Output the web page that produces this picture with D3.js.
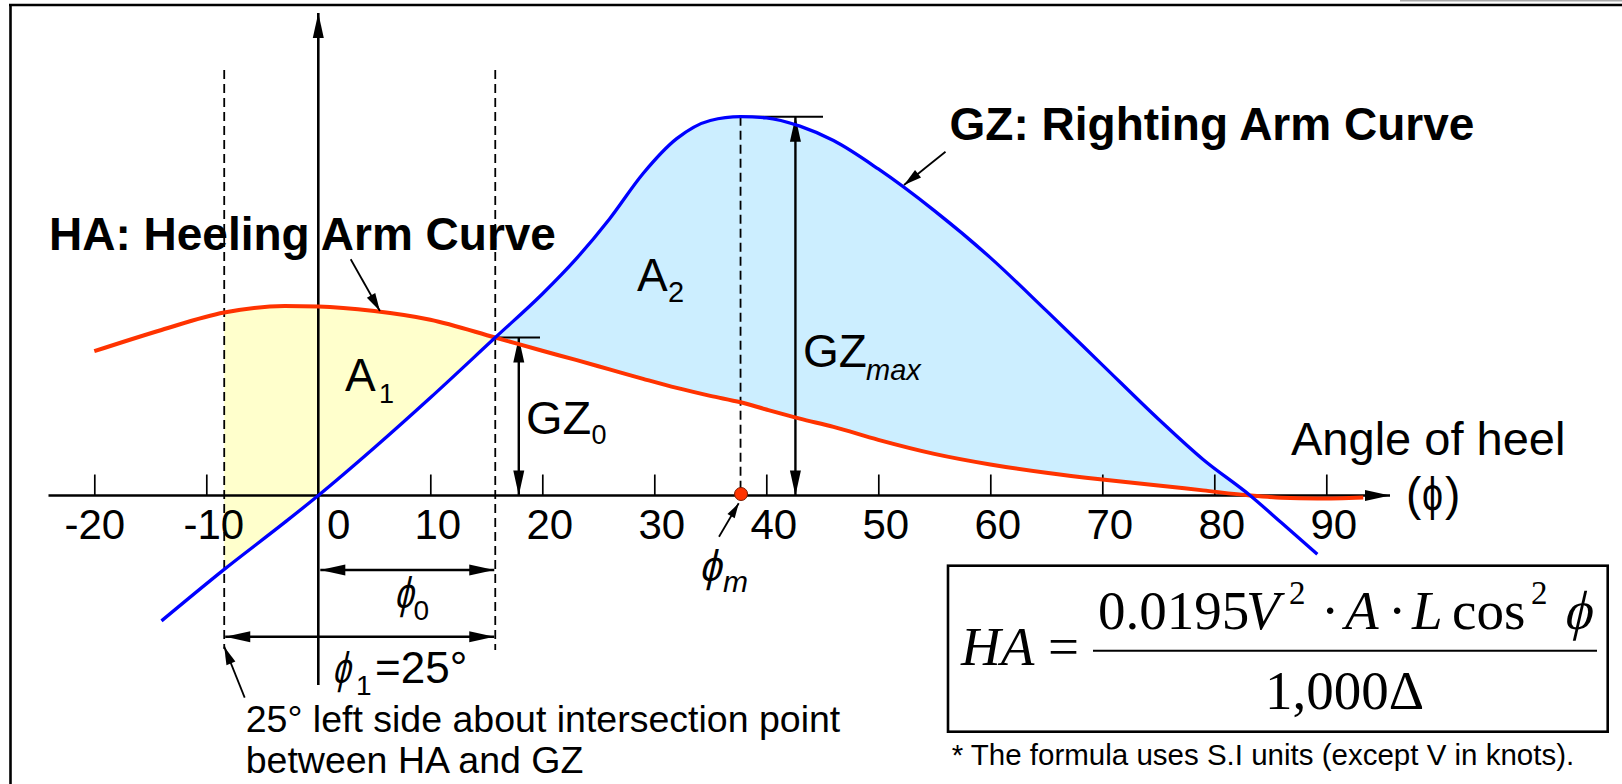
<!DOCTYPE html>
<html>
<head>
<meta charset="utf-8">
<script src="https://cdn.jsdelivr.net/npm/d3@7"></script>
<style>
  html, body { margin: 0; padding: 0; background: #fff; }
  svg { display: block; }
  text { font-family: "Liberation Sans", Arial, "DejaVu Sans", sans-serif; fill: #000; }
  .serif { font-family: "Liberation Serif", "Times New Roman", "DejaVu Serif", serif; }
</style>
</head>
<body>
<svg id="chart" width="1622" height="784"></svg>
<script>
// Heel angles (degrees) at which both arm curves are sampled
const angles   = [-20, -14, -8.4, -3, 0, 5, 10, 15.8, 20, 23, 26, 29, 32, 35, 37.7, 40, 43, 46, 50, 55, 60, 65, 70, 75, 79, 83.2, 86, 89.2, 93.3];
// GZ: righting arm (relative to GZmax)
const gzValues = [null, -0.331, -0.195, -0.071, 0, 0.126, 0.258, 0.417, 0.532, 0.624, 0.730, 0.850, 0.942, 0.990, 1.0, 0.997, 0.975, 0.937, 0.862, 0.752, 0.628, 0.488, 0.345, 0.202, 0.095, 0, -0.072, -0.155, null];
// HA: heeling arm (same units)
const haValues = [0.381, 0.437, 0.483, 0.500, 0.499, 0.487, 0.464, 0.417, 0.382, 0.358, 0.333, 0.308, 0.284, 0.263, 0.246, 0.227, 0.203, 0.181, 0.147, 0.110, 0.082, 0.060, 0.042, 0.0265, 0.0135, 0, -0.006, -0.008, -0.005];

const tickValues = [-20, -10, 0, 10, 20, 30, 40, 50, 60, 70, 80, 90];
const tickLabels = ["-20", "-10", "0", "10", "20", "30", "40", "50", "60", "70", "80", "90"];

// Characteristic angles
const phiLeft = -8.4;       // 25° to the left of the intersection
const phiEquil = 15.8;      // HA / GZ intersection (phi_0)
const phiMax = 37.7;        // angle of GZmax (phi_m)
const phiVanish = 83.2;     // GZ back to zero
const gzEquil = 0.417;      // GZ_0
const gzMax = 1.0;

const PHI = "\u03d5";

const svg = d3.select("#chart");
const x = d3.scaleLinear().domain([-20, 90]).range([94.3, 1326.3]);
const y = d3.scaleLinear().domain([0, 1]).range([495.5, 116.7]);

const rows = angles.map((a, i) => ({ a, gz: gzValues[i], ha: haValues[i] }));

// ---------- frame ----------
svg.append("line").attr("x1", 10.5).attr("y1", 5).attr("x2", 10.5).attr("y2", 784)
  .attr("stroke", "#000").attr("stroke-width", 2.6);
svg.append("line").attr("x1", 9).attr("y1", 5).attr("x2", 1622).attr("y2", 5)
  .attr("stroke", "#000").attr("stroke-width", 2.6);
svg.append("line").attr("x1", 1400).attr("y1", 0.8).attr("x2", 1622).attr("y2", 0.8)
  .attr("stroke", "#a8a8a8").attr("stroke-width", 1.6);

// ---------- filled areas between the curves ----------
const defs = svg.append("defs");
defs.append("clipPath").attr("id", "clipA1").append("rect")
  .attr("x", x(phiLeft)).attr("y", 0).attr("width", x(phiEquil) - x(phiLeft)).attr("height", 784);
defs.append("clipPath").attr("id", "clipA2").append("rect")
  .attr("x", x(phiEquil)).attr("y", 0).attr("width", x(phiVanish) - x(phiEquil)).attr("height", 784);

const between = d3.area()
  .defined(d => d.gz != null)
  .x(d => x(d.a)).y0(d => y(d.ha)).y1(d => y(d.gz))
  .curve(d3.curveMonotoneX);

svg.append("path").datum(rows).attr("d", between)
  .attr("fill", "#ffffcc").attr("clip-path", "url(#clipA1)");
svg.append("path").datum(rows).attr("d", between)
  .attr("fill", "#cceeff").attr("clip-path", "url(#clipA2)");

// ---------- helpers ----------
function head(g, tip, from, len, half) {
  const dx = tip[0] - from[0], dy = tip[1] - from[1];
  const d = Math.hypot(dx, dy), ux = dx / d, uy = dy / d;
  const bx = tip[0] - ux * len, by = tip[1] - uy * len;
  g.append("path")
    .attr("d", `M${tip[0]},${tip[1]}L${bx - uy * half},${by + ux * half}L${bx + uy * half},${by - ux * half}Z`)
    .attr("fill", "#000");
}
function arrow(g, from, to, opt) {
  const o = Object.assign({ len: 25, half: 5.5, width: 2.4, both: false }, opt || {});
  g.append("line").attr("x1", from[0]).attr("y1", from[1]).attr("x2", to[0]).attr("y2", to[1])
    .attr("stroke", "#000").attr("stroke-width", o.width);
  head(g, to, from, o.len, o.half);
  if (o.both) head(g, from, to, o.len, o.half);
}

const guides = svg.append("g");

// dashed guide lines
const dash = "9,5";
guides.append("line").attr("x1", x(phiLeft)).attr("x2", x(phiLeft)).attr("y1", 70).attr("y2", 649)
  .attr("stroke", "#000").attr("stroke-width", 1.8).attr("stroke-dasharray", dash);
guides.append("line").attr("x1", x(phiEquil)).attr("x2", x(phiEquil)).attr("y1", 70).attr("y2", 650)
  .attr("stroke", "#000").attr("stroke-width", 1.8).attr("stroke-dasharray", dash);
guides.append("line").attr("x1", x(phiMax)).attr("x2", x(phiMax)).attr("y1", y(gzMax)).attr("y2", y(0))
  .attr("stroke", "#000").attr("stroke-width", 1.8).attr("stroke-dasharray", dash);

// GZmax and GZ0 reference ticks
guides.append("line").attr("x1", x(phiMax) - 2).attr("x2", 823).attr("y1", y(gzMax)).attr("y2", y(gzMax))
  .attr("stroke", "#000").attr("stroke-width", 2);
guides.append("line").attr("x1", x(phiEquil)).attr("x2", 540).attr("y1", y(gzEquil)).attr("y2", y(gzEquil))
  .attr("stroke", "#000").attr("stroke-width", 2);

// dimension arrows
arrow(guides, [x(42.6), y(0)], [x(42.6), y(gzMax)], { both: true });
arrow(guides, [x(17.9), y(0)], [x(17.9), y(gzEquil)], { both: true });
arrow(guides, [x(0) + 2, 570], [x(phiEquil) - 1, 570], { both: true });
arrow(guides, [x(phiLeft) + 1, 636.7], [x(phiEquil) - 1, 636.7], { both: true });

// ---------- axes ----------
const axisG = svg.append("g").attr("transform", `translate(0,${y(0)})`);
axisG.call(d3.axisBottom(x).tickValues(tickValues)
  .tickFormat((d, i) => tickLabels[i])
  .tickSizeInner(-21).tickSizeOuter(0).tickPadding(14));
axisG.select(".domain").remove();
axisG.selectAll(".tick line").attr("stroke", "#000").attr("stroke-width", 1.7);
axisG.selectAll(".tick text")
  .attr("font-family", "'Liberation Sans', Arial, sans-serif")
  .attr("font-size", 42).attr("fill", "#000")
  .attr("dx", d => d === 0 ? 20 : (d === -20 ? 0 : 7));
axisG.selectAll(".tick").filter(d => d === 0).select("line").remove();

// horizontal axis with arrow
arrow(svg, [48.5, y(0)], [1390, y(0)], { width: 2.6, len: 25, half: 5.5 });
// vertical axis with arrow
arrow(svg, [x(0), 685], [x(0), 13], { width: 2.6, len: 25, half: 5.5 });

// ---------- curves ----------
const curve = d3.line()
  .defined(d => d[1] != null)
  .x(d => x(d[0])).y(d => y(d[1]))
  .curve(d3.curveMonotoneX);

svg.append("path").datum(angles.map((a, i) => [a, haValues[i]])).attr("d", curve)
  .attr("fill", "none").attr("stroke", "#ff3300").attr("stroke-width", 4);
svg.append("path").datum(angles.map((a, i) => [a, gzValues[i]])).attr("d", curve)
  .attr("fill", "none").attr("stroke", "#0000ff").attr("stroke-width", 3.3);

// phi_m marker
svg.append("circle").attr("cx", x(phiMax) + 0.5).attr("cy", y(0) - 1.5).attr("r", 6.5)
  .attr("fill", "#ff3300").attr("stroke", "#7a1a00").attr("stroke-width", 1);

// ---------- labels ----------
const lab = svg.append("g");

lab.append("text").attr("x", 49).attr("y", 250).attr("font-size", 46).attr("font-weight", "bold")
  .text("HA: Heeling Arm Curve");
arrow(lab, [350.7, 259.3], [x(5.5), y(0.487)], { width: 1.8, len: 18, half: 4.8 });

lab.append("text").attr("x", 949.6).attr("y", 140).attr("font-size", 46).attr("font-weight", "bold")
  .text("GZ: Righting Arm Curve");
arrow(lab, [945.5, 151.7], [904, 185], { width: 1.8, len: 18, half: 4.8 });

function subLabel(base, sub, bx, by, bs, sx, sy, ss, opt) {
  const o = opt || {};
  lab.append("text").attr("x", bx).attr("y", by).attr("font-size", bs).text(base);
  lab.append("text").attr("x", sx).attr("y", sy).attr("font-size", ss)
    .attr("font-style", o.subItalic ? "italic" : null).text(sub);
}

// slanted phi glyph squeezed to a given width
function phiGlyph(g, px, py, size, width, cls) {
  return g.append("g").attr("transform", `translate(${px},${py}) skewX(-13)`)
    .append("text").attr("class", cls || null)
    .attr("x", 0).attr("y", 0).attr("font-size", size)
    .attr("textLength", width).attr("lengthAdjust", "spacingAndGlyphs")
    .text(PHI);
}

subLabel("A", "1", 345, 391, 46, 379, 402.7, 27);
subLabel("A", "2", 637, 290.7, 46, 668, 301.7, 29);
subLabel("GZ", "0", 526, 434, 47, 591.5, 444, 27);
subLabel("GZ", "max", 803, 367, 46, 866, 380, 29, { subItalic: true });

lab.append("text").attr("x", 1291).attr("y", 455).attr("font-size", 47).text("Angle of heel");
const ph = lab.append("text").attr("y", 510).attr("font-size", 46);
ph.append("tspan").attr("x", 1406).text("(");
ph.append("tspan").attr("x", 1422).attr("textLength", 21).attr("lengthAdjust", "spacingAndGlyphs").text(PHI);
ph.append("tspan").attr("x", 1445).text(")");

// phi_m
phiGlyph(lab, 699, 581, 44, 22);
lab.append("text").attr("x", 723).attr("y", 591.7).attr("font-size", 30).attr("font-style", "italic").text("m");
arrow(lab, [719, 536.7], [738.7, 503.3], { width: 1.8, len: 15, half: 4.2 });

// phi_0
phiGlyph(lab, 394, 608, 44, 19);
lab.append("text").attr("x", 413.5).attr("y", 620).attr("font-size", 28).text("0");

// phi_1 = 25°
phiGlyph(lab, 332, 683, 44, 18);
lab.append("text").attr("x", 356).attr("y", 695).attr("font-size", 28).text("1");
lab.append("text").attr("x", 375).attr("y", 683).attr("font-size", 44).text("=25\u00b0");

// left-side note
arrow(lab, [244.7, 697.7], [x(phiLeft), 646.7], { width: 1.8, len: 18, half: 4.8 });
lab.append("text").attr("x", 245.7).attr("y", 731.7).attr("font-size", 37.5)
  .text("25\u00b0 left side about intersection point");
lab.append("text").attr("x", 245.7).attr("y", 773.3).attr("font-size", 37.5)
  .text("between HA and GZ");

// ---------- formula box ----------
const fb = svg.append("g");
fb.append("rect").attr("x", 948).attr("y", 565.7).attr("width", 659.7).attr("height", 166)
  .attr("fill", "none").attr("stroke", "#000").attr("stroke-width", 2.6);
fb.append("line").attr("x1", 1093).attr("x2", 1597).attr("y1", 650.7).attr("y2", 650.7)
  .attr("stroke", "#000").attr("stroke-width", 2);

const fs = 55, sup = 33;
const lhs = fb.append("text").attr("class", "serif").attr("font-size", fs);
lhs.append("tspan").attr("x", 961).attr("y", 665).attr("font-style", "italic").text("HA");
lhs.append("tspan").attr("x", 1048).attr("y", 665).text("=");

const num = fb.append("text").attr("class", "serif").attr("font-size", fs);
const nb = 629.3;
num.append("tspan").attr("x", 1098).attr("y", nb).text("0.0195");
num.append("tspan").attr("x", 1246).attr("y", nb).attr("font-style", "italic").text("V");
num.append("tspan").attr("x", 1289).attr("y", nb - 25).attr("font-size", sup).text("2");
num.append("tspan").attr("x", 1321).attr("y", nb).text("\u00b7");
num.append("tspan").attr("x", 1345).attr("y", nb).attr("font-style", "italic").text("A");
num.append("tspan").attr("x", 1388).attr("y", nb).text("\u00b7");
num.append("tspan").attr("x", 1412).attr("y", nb).attr("font-style", "italic").text("L");
num.append("tspan").attr("x", 1452).attr("y", nb).text("cos");
num.append("tspan").attr("x", 1531).attr("y", nb - 25).attr("font-size", sup).text("2");
phiGlyph(fb, 1563, nb, fs, 28, "serif");

fb.append("text").attr("class", "serif").attr("font-size", fs).attr("x", 1265).attr("y", 709.3)
  .text("1,000\u0394");

fb.append("text").attr("x", 951.7).attr("y", 765).attr("font-size", 29.5)
  .text("* The formula uses S.I units (except V in knots).");
</script>
</body>
</html>
